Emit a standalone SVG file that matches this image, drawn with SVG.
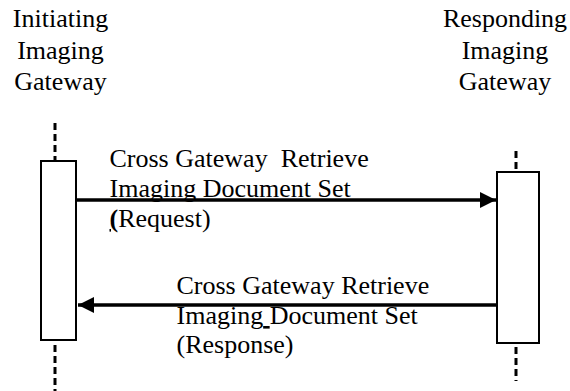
<svg xmlns="http://www.w3.org/2000/svg" width="570" height="391" viewBox="0 0 570 391">
<defs>
<style>
text{font-size:26px;fill:#000}
.hd{text-anchor:middle}
.life{stroke:#000;stroke-width:3;stroke-dasharray:7,4;fill:none}
.box{fill:#fff;stroke:#000;stroke-width:2}
.msg{stroke:#000;stroke-width:3.5;fill:none}
</style>
<marker id="ah" viewBox="0 0 16 16" refX="16" refY="8" markerWidth="16" markerHeight="16" markerUnits="userSpaceOnUse" orient="auto">
<path d="M0,0 L16,8 L0,16 Z" fill="#000"/>
</marker>
</defs>
<g font-family="'Liberation Serif', 'Times New Roman', serif">
<g id="initiating">
<text class="hd" x="60.5" y="27">Initiating</text>
<text class="hd" x="60.5" y="58.5">Imaging</text>
<text class="hd" x="60.5" y="89.5">Gateway</text>
<line class="life" x1="55" y1="123" x2="55" y2="161"/>
<line class="life" x1="55" y1="345" x2="55" y2="391"/>
<rect class="box" x="41" y="161" width="35" height="179"/>
</g>
<g id="responding">
<text class="hd" x="505" y="27">Responding</text>
<text class="hd" x="505" y="58.5">Imaging</text>
<text class="hd" x="505" y="89.5">Gateway</text>
<line class="life" x1="516" y1="151" x2="516" y2="172"/>
<line class="life" x1="516" y1="347" x2="516" y2="381"/>
<rect class="box" x="497" y="172" width="42" height="171"/>
</g>
<g id="connectors">
<line class="msg" x1="77" y1="200" x2="496" y2="200" marker-end="url(#ah)"/>
<line class="msg" x1="498" y1="305" x2="78" y2="305" marker-end="url(#ah)"/>
</g>
<g id="labels">
<text x="109.5" y="166.7" xml:space="preserve">Cross Gateway  Retrieve</text>
<text x="109.5" y="196.7">Imaging Document Set</text>
<text x="109.5" y="227"><tspan font-weight="bold" text-decoration="underline">(</tspan>Request)</text>
<text x="176.5" y="294">Cross Gateway Retrieve</text>
<text x="176.5" y="324" xml:space="preserve">Imaging<tspan text-decoration="underline"> </tspan>Document Set</text>
<text x="176.5" y="353">(Response)</text>
</g>
</g>
</svg>
